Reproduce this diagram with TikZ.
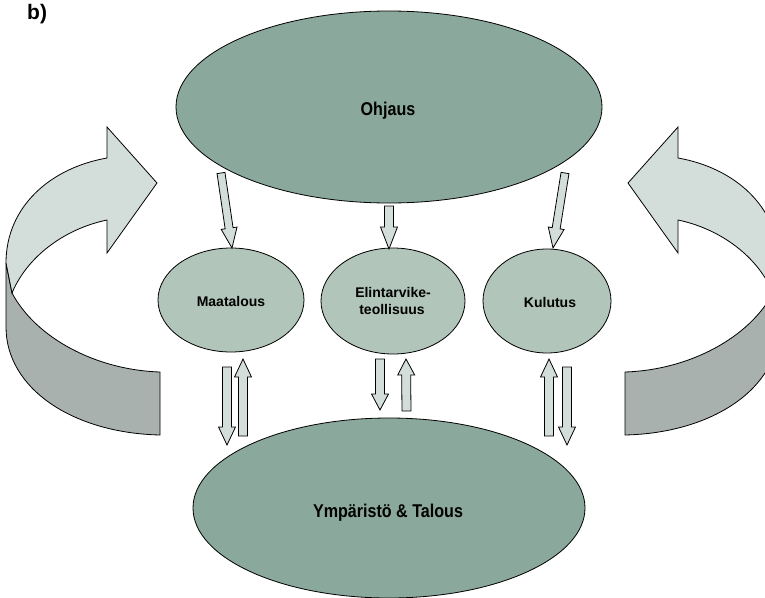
\documentclass[tikz,border=0pt]{standalone}
\usepackage{fontspec}
\setmainfont{Liberation Sans}
\usetikzlibrary{shapes.geometric,calc}

\definecolor{ctrlfill}{RGB}{138,168,155}
\definecolor{sectorfill}{RGB}{177,197,186}
\definecolor{arrowlight}{RGB}{211,222,218}
\definecolor{arrowdark}{RGB}{168,177,173}

\tikzset{
  outline/.style={draw=black, line width=0.8pt, line join=miter},
  bigell/.style={ellipse, outline, fill=ctrlfill, inner sep=0pt},
  smallell/.style={ellipse, outline, fill=sectorfill, inner sep=0pt},
  blockarrow/.style={outline, fill=arrowlight},
  ribbonfront/.style={outline, fill=arrowlight},
  ribbonback/.style={outline, fill=arrowdark},
  bigtxt/.style={anchor=base, inner sep=0pt, font=\bfseries\fontsize{18.5}{20}\selectfont},
  smalltxt/.style={anchor=base, inner sep=0pt, font=\bfseries\fontsize{14}{16}\selectfont},
}

% block arrow from coordinate #1 to coordinate #2:
% #3 half shaft width, #4 head length, #5 half head width
\newcommand\blockarrow[5]{%
  \coordinate (ba-h) at ($(#2)!#4!(#1)$);
  \draw[blockarrow]
    ($(#1)!#3!-90:(#2)$) -- ($(ba-h)!#3!-90:(#2)$) -- ($(ba-h)!#5!-90:(#2)$)
    -- (#2)
    -- ($(ba-h)!#5!90:(#2)$) -- ($(ba-h)!#3!90:(#2)$) -- ($(#1)!#3!90:(#2)$) -- cycle;}

% curved ribbon arrow (left-hand version; mirrored for the right side)
\newcommand\ribbonarrow{%
  \draw[ribbonback] (6,263) -- (6,327) .. controls (6,388) and (72,433) .. (160,435)
    -- (160,372) .. controls (96,370) and (36,338) .. (12,293) -- cycle;
  \draw[ribbonfront] (107,158) -- (107,127) -- (157,183) -- (107,253) -- (107,220)
    .. controls (64,229) and (27,257) .. (12,293) -- (6,263)
    .. controls (6,207) and (50,168) .. (107,158) -- cycle;}

\begin{document}
\begin{tikzpicture}[x=1pt, y=-1pt]
\useasboundingbox (0,0) rectangle (765,597);

% feedback ribbons
\begin{scope}
  \ribbonarrow
\end{scope}
\begin{scope}[xshift=785pt, xscale=-1]
  \ribbonarrow
\end{scope}

% main ellipses
\node[bigell, minimum width=426pt, minimum height=192pt] (ohjaus) at (389,107) {};
\node[bigell, minimum width=392pt, minimum height=180pt] (ymparisto) at (389,508) {};
\node[smallell, minimum width=146pt, minimum height=104pt] (maatalous) at (231,300) {};
\node[smallell, minimum width=144pt, minimum height=106pt] (elintarvike) at (393,301) {};
\node[smallell, minimum width=128pt, minimum height=104pt] (kulutus) at (547,301) {};

% labels
\node[anchor=base west, inner sep=0pt, font=\bfseries\fontsize{21}{23}\selectfont] (tag) at (27,19) {b)};
\node[bigtxt] (ohjaus-t) at (388,115) {\scalebox{0.87}[1]{Ohjaus}};
\node[bigtxt] (ymparisto-t) at (388,517) {\scalebox{0.87}[1]{Ympäristö \& Talous}};
\node[smalltxt] (maatalous-t) at (231,306) {Maatalous};
\node[smalltxt] (elintarvike-t1) at (393,297) {Elintarvike-};
\node[smalltxt] (elintarvike-t2) at (392,314) {teollisuus};
\node[smalltxt] (kulutus-t) at (550,307) {Kulutus};

% arrow end points
\coordinate (o-m-s) at (221,173);  \coordinate (o-m-e) at (232,248);
\coordinate (o-e-s) at (389,206);  \coordinate (o-e-e) at (389,249);
\coordinate (o-k-s) at (565,173);  \coordinate (o-k-e) at (553,248);
\coordinate (m-y-s) at (227,367);  \coordinate (m-y-e) at (227,445);
\coordinate (y-m-s) at (243,436);  \coordinate (y-m-e) at (243,359);
\coordinate (e-y-s) at (380,359);  \coordinate (e-y-e) at (380,410);
\coordinate (y-e-s) at (406.5,411); \coordinate (y-e-e) at (406,359);
\coordinate (y-k-s) at (549,436);  \coordinate (y-k-e) at (549,359);
\coordinate (k-y-s) at (567,367);  \coordinate (k-y-e) at (567,445);

% control arrows
\blockarrow{o-m-s}{o-m-e}{4pt}{20pt}{8pt}
\blockarrow{o-e-s}{o-e-e}{4.5pt}{22pt}{8.5pt}
\blockarrow{o-k-s}{o-k-e}{4pt}{20pt}{8pt}

% exchange arrows
\blockarrow{m-y-s}{m-y-e}{4.5pt}{18pt}{8.5pt}
\blockarrow{y-m-s}{y-m-e}{4.5pt}{18pt}{8.5pt}
\blockarrow{e-y-s}{e-y-e}{4.5pt}{16pt}{8.5pt}
\blockarrow{y-e-s}{y-e-e}{4.5pt}{16pt}{8.5pt}
\blockarrow{y-k-s}{y-k-e}{4.5pt}{18pt}{8.5pt}
\blockarrow{k-y-s}{k-y-e}{4.5pt}{18pt}{8.5pt}
\end{tikzpicture}
\end{document}
